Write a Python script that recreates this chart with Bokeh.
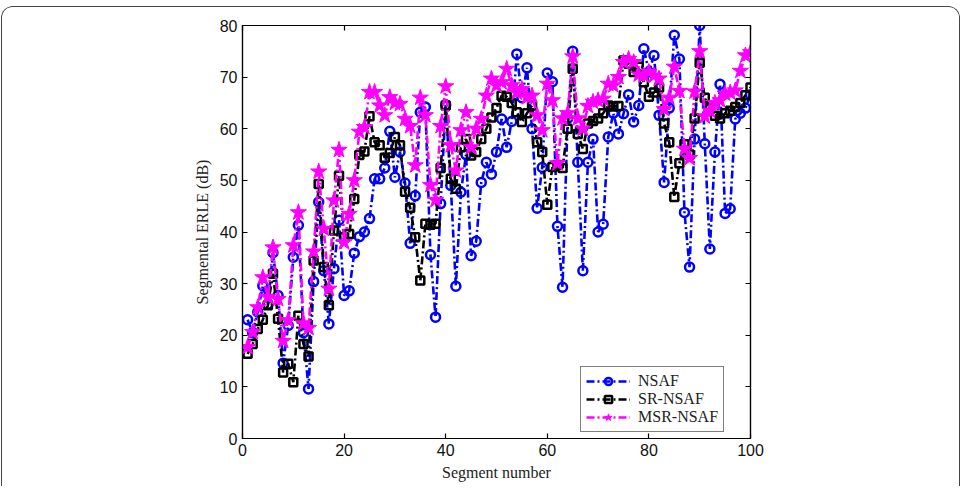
from bokeh.plotting import figure
from bokeh.models import Range1d, LinearAxis, Legend, LegendItem, FixedTicker
from bokeh.embed import file_html
from bokeh.resources import INLINE

# Segment index (1..100) and the segmental ERLE (dB) of each algorithm
segments = list(range(1, 101))

nsaf = [23.0, 20.5, 24.5, 29.6, 26.0, 36.0, 27.7, 14.6, 21.9, 35.1,
        41.3, 20.5, 9.6, 30.4, 45.8, 32.5, 22.2, 32.9, 42.3, 27.7,
        28.6, 35.9, 39.1, 40.0, 42.6, 50.3, 50.3, 52.4, 59.5, 50.6,
        55.5, 49.5, 37.8, 47.0, 63.2, 64.2, 35.6, 23.5, 45.5, 64.6,
        49.0, 29.5, 47.7, 55.0, 35.4, 38.2, 49.6, 53.5, 51.2, 55.5,
        61.9, 56.4, 61.4, 74.5, 66.0, 71.8, 60.0, 44.6, 52.5, 70.8,
        69.1, 41.1, 29.3, 62.0, 75.0, 53.5, 32.5, 53.5, 58.0, 40.0,
        41.5, 58.4, 63.0, 59.0, 62.9, 66.6, 61.3, 64.5, 75.5, 71.0,
        74.2, 62.6, 49.6, 64.0, 78.1, 73.5, 43.8, 33.2, 58.0, 80.0,
        57.1, 36.7, 55.5, 68.6, 43.6, 44.5, 61.9, 63.0, 64.0, 66.6]

sr_nsaf = [16.4, 18.3, 21.2, 23.0, 25.8, 31.9, 23.2, 12.8, 14.5, 10.9,
           23.8, 18.3, 15.9, 34.5, 49.3, 33.2, 25.8, 40.3, 50.9, 39.0,
           39.6, 46.4, 54.9, 55.6, 62.4, 57.4, 56.8, 54.4, 55.3, 58.4,
           56.8, 47.8, 44.7, 39.0, 30.6, 41.6, 41.4, 41.6, 52.4, 64.5,
           50.3, 48.4, 56.4, 58.0, 54.8, 55.5, 58.0, 60.0, 62.2, 64.0,
           66.4, 66.2, 65.0, 63.2, 61.3, 63.0, 64.5, 57.4, 55.5, 45.3,
           52.6, 53.0, 52.4, 60.0, 71.6, 59.0, 56.1, 61.0, 61.5, 62.0,
           63.0, 64.5, 64.3, 64.4, 73.2, 72.6, 71.0, 72.0, 69.0, 66.2,
           67.0, 68.0, 61.0, 57.4, 46.8, 53.3, 57.0, 55.0, 62.0, 72.8,
           66.0, 64.0, 62.5, 62.0, 63.0, 63.5, 64.2, 65.0, 66.5, 68.0]

msr_nsaf = [17.7, 20.6, 25.4, 31.2, 27.4, 37.0, 27.0, 18.9, 22.9, 37.4,
            43.8, 22.3, 21.4, 36.2, 51.7, 40.6, 29.0, 46.1, 55.9, 38.0,
            43.5, 50.0, 59.4, 60.3, 67.1, 67.1, 64.5, 62.6, 66.1, 65.0,
            64.8, 61.9, 60.5, 52.9, 66.0, 62.6, 49.1, 46.2, 60.5, 68.2,
            56.8, 51.9, 59.7, 63.2, 56.4, 60.0, 61.9, 66.4, 69.7, 68.4,
            69.0, 71.6, 68.4, 67.0, 67.7, 66.1, 66.4, 62.6, 59.7, 68.7,
            65.5, 53.3, 62.0, 63.0, 74.0, 62.0, 60.0, 64.4, 65.2, 65.5,
            65.8, 68.7, 68.4, 70.0, 72.9, 73.5, 72.9, 70.5, 70.3, 71.0,
            70.3, 69.7, 63.8, 66.0, 72.0, 67.3, 56.1, 54.3, 67.2, 75.0,
            62.4, 63.5, 65.0, 65.5, 66.8, 67.0, 67.4, 71.2, 74.2, 74.8]

series_names = ["NSAF", "SR-NSAF", "MSR-NSAF"]
x_ticks = [0, 20, 40, 60, 80, 100]
y_ticks = [0, 10, 20, 30, 40, 50, 60, 70, 80]

p = figure(width=959, height=480, output_backend="svg", toolbar_location=None,
           x_range=Range1d(0, 100), y_range=Range1d(0, 80),
           min_border_left=240, min_border_right=211,
           min_border_top=18, min_border_bottom=49)
# rounded page frame drawn around the whole figure
p.margin = (6, 0, 0, 1)
p.styles = {"border": "1.5px solid #444444", "border-bottom": "none",
            "border-radius": "12px 12px 0 0", "overflow": "hidden"}

p.xgrid.visible = False
p.ygrid.visible = False
p.outline_line_color = "black"
p.outline_line_width = 1.2
p.background_fill_color = "white"
p.border_fill_color = "white"

p.xaxis.ticker = FixedTicker(ticks=x_ticks)
p.yaxis.ticker = FixedTicker(ticks=y_ticks)
p.xaxis.axis_label = "Segment number"
p.yaxis.axis_label = "Segmental ERLE (dB)"

# mirrored tick marks on the top and right edges of the box
p.add_layout(LinearAxis(ticker=FixedTicker(ticks=x_ticks)), "above")
p.add_layout(LinearAxis(ticker=FixedTicker(ticks=y_ticks)), "right")

for ax in p.axis:
    ax.major_tick_in = 5
    ax.major_tick_out = 0
    ax.minor_tick_in = 0
    ax.minor_tick_out = 0
    ax.axis_line_color = "black"
    ax.axis_line_width = 1.2
    ax.major_tick_line_color = "black"
    ax.major_tick_line_width = 1.2
    ax.major_label_text_font = "Liberation Sans"
    ax.major_label_text_font_size = "16px"
    ax.major_label_text_color = "#111111"
    ax.axis_label_text_font = "Liberation Serif"
    ax.axis_label_text_font_style = "normal"
    ax.axis_label_text_font_size = "16px"
    ax.axis_label_text_color = "#222222"

for ax in (p.above[0], p.right[0]):
    ax.major_label_text_color = None
    ax.major_label_standoff = 0

p.xaxis[0].axis_label_text_font_size = "17px"
p.xaxis[0].major_label_standoff = 6
p.yaxis[0].major_label_standoff = 5
p.xaxis[0].axis_label_standoff = 0
p.yaxis[0].axis_label_standoff = 6

dash = "8 3 2 3"
lw = 2.6

l1 = p.line(segments, nsaf, line_color="#0000ff", line_width=lw, line_dash=dash)
m1 = p.scatter(segments, nsaf, marker="circle", size=9, line_color="#0000ff",
               line_width=2.5, fill_color=None)
l2 = p.line(segments, sr_nsaf, line_color="black", line_width=lw, line_dash=dash)
m2 = p.scatter(segments, sr_nsaf, marker="square", size=8, line_color="black",
               line_width=2.5, fill_color=None)
l3 = p.line(segments, msr_nsaf, line_color="#ff00ff", line_width=lw, line_dash=dash)
m3 = p.scatter(segments, msr_nsaf, marker="star", size=17, line_color="#ff00ff",
               line_width=1, fill_color="#ff00ff")

legend = Legend(items=[LegendItem(label=series_names[0], renderers=[l1, m1]),
                       LegendItem(label=series_names[1], renderers=[l2, m2]),
                       LegendItem(label=series_names[2], renderers=[l3, m3])],
                location=(338, 6))
legend.label_text_font = "Liberation Serif"
legend.label_text_font_size = "16px"
legend.label_text_color = "#222222"
legend.glyph_width = 44
legend.glyph_height = 18
legend.label_height = 18
legend.label_standoff = 8
legend.spacing = 0
legend.padding = 5
legend.margin = 0
legend.border_line_color = "black"
legend.border_line_width = 1.2
legend.background_fill_alpha = 1.0
p.add_layout(legend)

open("out.html", "w").write(file_html(p, INLINE))
